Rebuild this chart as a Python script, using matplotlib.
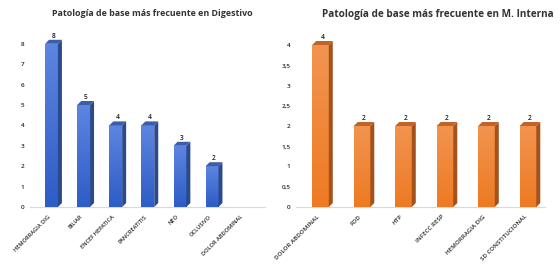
import numpy as np
import matplotlib
matplotlib.use("Agg")
import matplotlib.pyplot as plt
from matplotlib.patches import Polygon
from matplotlib.colors import LinearSegmentedColormap
from matplotlib.transforms import ScaledTranslation

plt.rcParams['font.family'] = ['Open Sans', 'DejaVu Sans']

dig_cats = ["HEMORRAGIA DIG", "BILIAR", "ENCEF HEPATICA", "PANCREATITIS", "NEO", "OCLUSIVO", "DOLOR ABDOMINAL"]
dig_vals = [8, 5, 4, 4, 3, 2, 0]
dig_ticks = [0, 1, 2, 3, 4, 5, 6, 7, 8]
dig_ticklabels = ["0", "1", "2", "3", "4", "5", "6", "7", "8"]

mi_cats = ["DOLOR ABDOMINAL", "FOD", "HTP", "INFECC RESP", "HEMORRAGIA DIG", "SD CONSTITUCIONAL"]
mi_vals = [4, 2, 2, 2, 2, 2]
mi_ticks = [0, 0.5, 1, 1.5, 2, 2.5, 3, 3.5, 4]
mi_ticklabels = ["0", "0,5", "1", "1,5", "2", "2,5", "3", "3,5", "4"]

W, H = 560, 266
fig = plt.figure(figsize=(W / 100, H / 100), dpi=100)


def make_panel(rect, cats, vals, ticks, ticklabels, xlim, ymax, title, title_xy, title_size,
               xlab_size, c_top, c_bot, c_side, c_cap):
    ax = fig.add_axes(rect)
    n = len(cats)
    x = np.arange(n)
    width = 0.4
    ax_w_px = rect[2] * W
    ax_h_px = rect[3] * H
    dx = 4.0 * (xlim[1] - xlim[0]) / ax_w_px
    dy = 4.0 * ymax / ax_h_px
    bars = ax.bar(x, vals, width=width, color="none", edgecolor="none", zorder=3)
    grad = np.linspace(0, 1, 256).reshape(-1, 1)
    cmap = LinearSegmentedColormap.from_list("g", [c_bot, c_top])
    for b, v in zip(bars, vals):
        x0 = b.get_x()
        x1 = x0 + b.get_width()
        if v <= 0:
            continue
        im = ax.imshow(grad, extent=(x0, x1, 0, v), origin="lower", aspect="auto",
                       cmap=cmap, zorder=3)
        im.set_clip_path(b)
        side = Polygon([(x1, 0), (x1 + dx, dy), (x1 + dx, v + dy), (x1, v)],
                       closed=True, facecolor=c_side, edgecolor="none", zorder=3)
        top = Polygon([(x0, v), (x0 + dx, v + dy), (x1 + dx, v + dy), (x1, v)],
                      closed=True, facecolor=c_cap, edgecolor="none", zorder=3)
        ax.add_patch(side)
        ax.add_patch(top)
        ax.text((x0 + x1 + dx) / 2, v + dy, str(v), ha="center", va="bottom",
                fontsize=4.8, fontweight="semibold", color="#1a1a1a", zorder=4)
    ax.set_xlim(*xlim)
    ax.set_ylim(0, ymax)
    ax.set_yticks(ticks)
    ax.set_yticklabels(ticklabels)
    ax.set_xticks(x)
    ax.set_xticklabels(cats, rotation=45, ha="right", rotation_mode="anchor")
    ax.tick_params(axis="y", length=0, labelsize=4.6, colors="#262626", pad=4)
    ax.tick_params(axis="x", length=0, labelsize=xlab_size, colors="#262626", pad=5)
    for lab in ax.get_xticklabels() + ax.get_yticklabels():
        lab.set_fontweight("semibold")
    shift = ScaledTranslation(-0.035, 0, fig.dpi_scale_trans)
    for lab in ax.get_xticklabels():
        lab.set_transform(lab.get_transform() + shift)
    for s in ["top", "right", "left"]:
        ax.spines[s].set_visible(False)
    ax.spines["bottom"].set_color("#d9d9d9")
    ax.spines["bottom"].set_linewidth(0.8)
    fig.text(title_xy[0] / W, 1 - title_xy[1] / H, title, ha="center", va="center",
             fontsize=title_size, fontweight="bold", color="#333333")
    return ax


make_panel([30 / W, 1 - 207 / H, 235 / W, 8.6 * 20.4 / H], dig_cats, dig_vals, dig_ticks,
           dig_ticklabels, (-0.67, 6.65), 8.6,
           "Patología de base más frecuente en Digestivo", (152, 14), 6.4, 4.1,
           "#5d86e0", "#2e5cc6", "#2b4a8e", "#3c5ea8")
make_panel([296 / W, 1 - 207 / H, 249 / W, 4.3 * 40.5 / H], mi_cats, mi_vals, mi_ticks,
           mi_ticklabels, (-0.59, 5.41), 4.3,
           "Patología de base más frecuente en M. Interna", (438, 15), 7.2, 4.4,
           "#f29450", "#ee7a22", "#a4521c", "#c06428")

fig.savefig("out.png", dpi=100)
